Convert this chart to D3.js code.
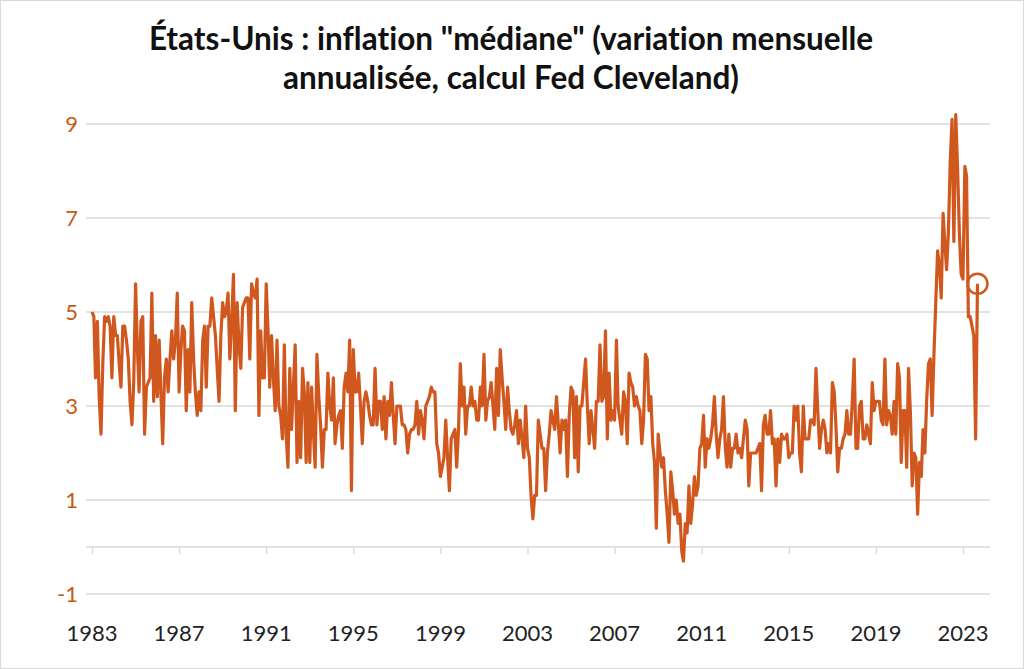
<!DOCTYPE html>
<meta charset="utf-8">
<style>
body { margin: 0; background: #fff; }
svg { display: block; font-family: Lato, "Open Sans", sans-serif; font-variant-ligatures: none; }
.grid line { stroke: #d9d9d9; stroke-width: 1.3; }
.ylab { fill: #c55a11; font-size: 22px; text-anchor: end; }
.xlab { fill: #222; font-size: 22px; text-anchor: middle; }
.title { font-size: 31.5px; font-weight: bold; fill: #111; text-anchor: middle; }
</style>
<body>
<script src="https://cdn.jsdelivr.net/npm/d3@7/dist/d3.min.js"></script>
<script>

// monthly values, one row per year, starting January 1983
var startYear = 1983;

var v1980s = [
  [5.0, 4.9, 3.6, 4.8, 3.2, 2.4, 3.9, 4.9, 4.8, 4.9, 4.7, 3.6],
  [4.9, 4.5, 4.5, 3.9, 3.4, 4.7, 4.7, 4.4, 4.0, 3.1, 2.6, 3.5],
  [5.6, 4.2, 3.3, 4.8, 4.9, 2.4, 3.4, 3.5, 3.6, 5.4, 3.1, 4.5],
  [3.2, 4.4, 3.3, 2.2, 3.6, 4.0, 3.3, 4.0, 4.6, 4.0, 4.4, 5.4],
  [3.3, 4.2, 4.7, 4.6, 2.9, 4.2, 3.3, 5.2, 4.0, 3.3, 2.8, 3.3],
  [2.9, 4.4, 4.7, 3.4, 4.7, 4.7, 5.3, 4.9, 4.5, 3.8, 3.1, 4.5],
  [5.2, 4.9, 5.0, 5.4, 4.0, 4.8, 5.8, 2.9, 5.2, 4.3, 3.8, 5.1]
];

var v1990s = [
  [5.2, 5.3, 5.3, 4.0, 5.6, 5.4, 5.3, 5.7, 2.8, 4.6, 3.6, 3.6],
  [5.6, 4.6, 3.4, 4.5, 3.6, 2.9, 4.4, 3.0, 2.8, 2.3, 4.3, 2.4],
  [1.7, 3.8, 2.5, 3.4, 4.3, 1.8, 3.1, 1.9, 3.8, 3.3, 1.8, 3.5],
  [1.8, 3.4, 2.5, 1.7, 4.1, 3.2, 2.6, 1.7, 2.5, 2.5, 3.7, 3.0],
  [2.7, 3.6, 2.2, 2.6, 2.8, 2.9, 2.1, 3.4, 3.7, 3.3, 4.4, 1.2],
  [4.2, 3.3, 3.3, 3.7, 3.0, 2.2, 3.1, 3.3, 3.1, 2.8, 2.6, 2.6],
  [3.8, 2.6, 3.1, 3.1, 2.5, 3.2, 2.3, 3.1, 2.8, 3.5, 2.8, 2.2],
  [3.0, 3.0, 3.0, 2.6, 2.6, 2.5, 2.0, 2.4, 2.5, 2.5, 2.6, 3.1],
  [2.4, 2.9, 2.7, 2.3, 3.0, 3.1, 3.2, 3.4, 3.3, 3.3, 2.2, 2.0],
  [1.5, 1.7, 1.9, 2.7, 1.9, 1.2, 2.3, 2.4, 2.5, 1.7, 2.5, 3.9]
];

var v2000s = [
  [3.0, 3.4, 2.4, 3.0, 3.0, 3.4, 3.0, 3.1, 2.7, 2.7, 3.4, 3.0],
  [4.1, 2.7, 3.1, 3.2, 3.5, 3.0, 2.5, 3.8, 2.8, 4.2, 3.6, 3.1],
  [2.5, 3.4, 2.9, 2.5, 2.4, 2.6, 2.9, 2.2, 2.7, 2.3, 1.9, 3.0],
  [2.1, 1.9, 1.1, 0.6, 1.1, 1.1, 2.7, 2.4, 2.1, 2.1, 1.2, 2.0],
  [2.4, 2.9, 2.7, 2.5, 3.2, 2.6, 2.0, 2.7, 2.5, 2.7, 1.5, 2.8],
  [3.4, 3.3, 1.9, 3.2, 1.6, 3.0, 3.0, 3.5, 4.0, 3.0, 2.2, 2.9],
  [2.5, 2.1, 3.1, 3.1, 4.3, 3.1, 3.2, 4.6, 2.3, 3.7, 2.7, 2.9],
  [2.7, 4.4, 3.0, 2.7, 2.4, 3.3, 3.1, 2.2, 3.7, 3.5, 3.4, 3.0],
  [3.2, 3.0, 2.9, 2.2, 2.7, 4.1, 4.0, 2.9, 3.2, 2.2, 1.8, 0.4],
  [2.4, 2.0, 1.7, 1.9, 1.2, 0.7, 0.1, 1.6, 1.2, 0.7, 1.0, 0.5]
];

var v2010s = [
  [0.7, -0.1, -0.3, 0.5, 0.3, 1.3, 0.5, 0.9, 1.5, 1.1, 1.3, 2.1],
  [2.2, 2.8, 1.7, 2.3, 2.1, 2.3, 2.6, 3.2, 2.4, 1.9, 2.3, 2.5],
  [3.2, 2.1, 1.7, 2.4, 1.7, 2.1, 2.1, 2.4, 2.0, 2.1, 1.9, 2.3],
  [2.7, 2.5, 1.3, 2.0, 2.0, 2.0, 2.0, 2.1, 2.2, 1.2, 2.6, 2.8],
  [2.4, 2.4, 2.9, 2.2, 2.3, 1.3, 2.3, 1.8, 2.4, 2.3, 2.3, 2.4],
  [1.9, 2.0, 2.0, 3.0, 2.7, 3.0, 2.0, 1.6, 3.0, 2.3, 2.3, 2.3],
  [2.7, 2.7, 2.6, 3.8, 2.9, 2.1, 2.5, 2.7, 2.5, 2.0, 2.2, 2.0],
  [3.5, 3.3, 2.6, 1.6, 2.1, 2.1, 2.3, 2.4, 2.9, 2.4, 2.4, 3.1],
  [4.0, 2.1, 2.1, 3.0, 3.1, 2.3, 2.3, 2.6, 2.4, 2.2, 3.5, 2.9],
  [3.1, 3.1, 3.1, 2.7, 2.6, 4.0, 2.6, 2.9, 2.8, 2.4, 3.1, 2.4]
];

var v2020s = [
  [3.9, 3.6, 1.8, 2.9, 2.9, 1.7, 3.8, 2.9, 1.3, 2.0, 1.9, 0.7],
  [1.8, 1.5, 2.5, 2.0, 3.1, 3.9, 4.0, 2.8, 4.1, 5.2, 6.3, 6.0],
  [5.3, 7.1, 6.5, 5.9, 6.7, 8.2, 9.1, 6.5, 9.2, 8.1, 6.7, 5.8],
  [5.7, 8.1, 7.9, 4.9, 4.9, 4.7, 4.5, 2.3, 5.6]
];

var yTicks = [-1, 1, 3, 5, 7, 9];
var xTickYears = [1983, 1987, 1991, 1995, 1999, 2003, 2007, 2011, 2015, 2019, 2023];
var titleLines = ['États-Unis : inflation "médiane" (variation mensuelle',
                  'annualisée, calcul Fed Cleveland)'];

var width = 1024, height = 669;

var data = [];
[].concat(v1980s, v1990s, v2000s, v2010s, v2020s).forEach(function(row, yi) {
  row.forEach(function(v, m) {
    data.push({ date: new Date(startYear + yi, m, 1), value: v });
  });
});

var x = d3.scaleTime()
    .domain([new Date(1983, 0, 1), new Date(2023, 0, 1)])
    .range([92, 963]);

var y = d3.scaleLinear()
    .domain([-1, 9])
    .range([594, 124]);

var svg = d3.select('body').append('svg')
    .attr('width', width)
    .attr('height', height);

svg.append('rect')
    .attr('x', 0.5).attr('y', 0.5)
    .attr('width', width - 1).attr('height', height - 1)
    .attr('fill', '#fff')
    .attr('stroke', '#d9d9d9');

// title
svg.selectAll('.title')
    .data(titleLines)
  .enter().append('text')
    .attr('class', 'title')
    .attr('x', 511)
    .attr('y', function(d, i) { return 50 + i * 39; })
    .text(function(d) { return d; });

// horizontal gridlines
svg.append('g')
    .attr('class', 'grid')
  .selectAll('line')
    .data(yTicks)
  .enter().append('line')
    .attr('x1', 86).attr('x2', 990)
    .attr('y1', function(d) { return y(d); })
    .attr('y2', function(d) { return y(d); });

// y labels
svg.selectAll('.ylab')
    .data(yTicks)
  .enter().append('text')
    .attr('class', 'ylab')
    .attr('x', 78)
    .attr('y', function(d) { return y(d); })
    .attr('dy', '0.35em')
    .text(function(d) { return d; });

// x axis at zero with tick marks
var xAxis = d3.axisBottom(x)
    .tickValues(xTickYears.map(function(yr) { return new Date(yr, 0, 1); }))
    .tickSize(7)
    .tickFormat('');

var gx = svg.append('g')
    .attr('transform', 'translate(0,' + y(0) + ')')
    .call(xAxis);
gx.select('.domain').attr('d', 'M86,0H990').attr('stroke', '#d9d9d9').attr('stroke-width', 1.3);
gx.selectAll('.tick line').attr('stroke', '#d9d9d9').attr('stroke-width', 1.3);

svg.selectAll('.xlab')
    .data(xTickYears)
  .enter().append('text')
    .attr('class', 'xlab')
    .attr('x', function(d) { return x(new Date(d, 0, 1)); })
    .attr('y', 641)
    .text(function(d) { return d; });

// the series
var line = d3.line()
    .x(function(d) { return x(d.date); })
    .y(function(d) { return y(d.value); });

svg.append('path')
    .datum(data)
    .attr('d', line)
    .attr('fill', 'none')
    .attr('stroke', '#d0581f')
    .attr('stroke-width', 3.2)
    .attr('stroke-linejoin', 'round');

var last = data[data.length - 1];
svg.append('circle')
    .attr('cx', x(last.date))
    .attr('cy', y(last.value))
    .attr('r', 10)
    .attr('fill', 'none')
    .attr('stroke', '#d0581f')
    .attr('stroke-width', 2.5);

</script>
</body>
